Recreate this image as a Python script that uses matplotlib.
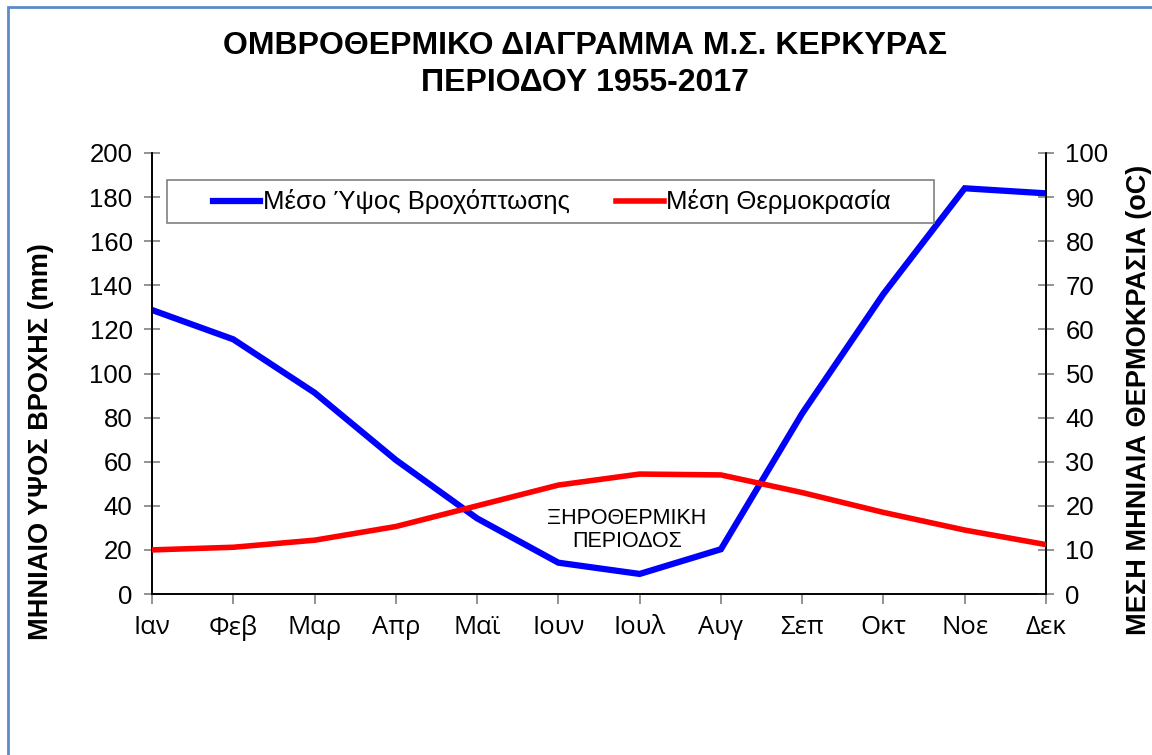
import matplotlib
matplotlib.use("Agg")
import matplotlib.pyplot as plt
from matplotlib.patches import Rectangle

# month labels and monthly means
months = ["Ιαν", "Φεβ", "Μαρ", "Απρ", "Μαϊ", "Ιουν", "Ιουλ", "Αυγ", "Σεπ", "Οκτ", "Νοε", "Δεκ"]
rain_mm = [128.8, 115.5, 91.3, 60.8, 34.3, 14.2, 9.1, 20.3, 81.9, 136.1, 184.0, 181.7]
temp_c = [10.0, 10.6, 12.2, 15.3, 20.0, 24.7, 27.2, 27.0, 23.0, 18.5, 14.5, 11.2]

rain_label = "Μέσο Ύψος Βροχόπτωσης"
temp_label = "Μέση Θερμοκρασία"

plt.rcParams['font.family'] = ['Liberation Sans', 'DejaVu Sans']

W, H = 1152, 755
fig = plt.figure(figsize=(W / 100, H / 100), dpi=100)

# chart border (blue frame, cut off at right/bottom like the original)
fig.patches.append(Rectangle((8 / W, -0.1), 1.2, 1 - 7 / H + 0.1, transform=fig.transFigure,
                             fill=False, edgecolor='#5B8BC8', linewidth=2.0))

ax = fig.add_axes([152 / W, (H - 594) / H, (1046 - 152) / W, (594 - 153) / H])
ax2 = ax.twinx()

x = list(range(len(months)))
l1, = ax.plot(x, rain_mm, color='#0000FF', linewidth=4.5, label=rain_label,
              solid_joinstyle='miter', zorder=3)
l2, = ax2.plot(x, temp_c, color='#FF0000', linewidth=4.0, label=temp_label,
               solid_joinstyle='miter', zorder=3)

ax.set_xlim(0, 11)
ax.set_ylim(0, 200)
ax2.set_ylim(0, 100)
ax.set_yticks(range(0, 201, 20))
ax2.set_yticks(range(0, 101, 10))
ax.set_xticks(x)
ax.set_xticklabels(months, fontsize=18.5, family=['Open Sans', 'DejaVu Sans'])

for a in (ax, ax2):
    a.spines['top'].set_visible(False)
    for s in ('left', 'right', 'bottom'):
        a.spines[s].set_color('black')
        a.spines[s].set_linewidth(1.2)

ax.tick_params(axis='y', direction='inout', length=12, width=1.2, color='#808080',
               labelsize=18.5, pad=8)
ax2.tick_params(axis='y', direction='inout', length=12, width=1.2, color='#808080',
                labelsize=18.5, pad=8)
ax.tick_params(axis='x', direction='out', length=7, width=1.2, color='#808080', pad=8)

# title and axis labels
fig.text(585 / W, 1 - 46 / H, "ΟΜΒΡΟΘΕΡΜΙΚΟ ΔΙΑΓΡΑΜΜΑ Μ.Σ. ΚΕΡΚΥΡΑΣ", ha='center', va='center',
         fontsize=23, fontweight='bold')
fig.text(585 / W, 1 - 83 / H, "ΠΕΡΙΟΔΟΥ 1955-2017", ha='center', va='center',
         fontsize=23, fontweight='bold')
fig.text(41 / W, 1 - 442 / H, "ΜΗΝΙΑΙΟ ΥΨΟΣ ΒΡΟΧΗΣ (mm)", rotation=90, ha='center', va='center',
         fontsize=19.5, fontweight='bold')
fig.text(1139 / W, 1 - 400 / H, "ΜΕΣΗ ΜΗΝΙΑΙΑ ΘΕΡΜΟΚΡΑΣΙΑ (oC)", rotation=90, ha='center',
         va='center', fontsize=19.5, fontweight='bold')

# dry period note
fig.text(627 / W, 1 - 530 / H, "ΞΗΡΟΘΕΡΜΙΚΗ\nΠΕΡΙΟΔΟΣ", ha='center', va='center',
         fontsize=15.5, linespacing=1.15)

# legend frame + centred legend entries
fig.patches.append(Rectangle((167 / W, 1 - 223 / H), (934 - 167) / W, 43 / H,
                             transform=fig.transFigure, fill=True, facecolor='white',
                             edgecolor='#808080', linewidth=1.2, zorder=5))
leg = fig.legend([l1, l2], [rain_label, temp_label], ncol=2,
                 bbox_to_anchor=(552 / W, 1 - 202 / H), loc='center',
                 fontsize=18.5, frameon=False, handlelength=1.85, handletextpad=0.1,
                 borderaxespad=0, borderpad=0, columnspacing=1.8)
leg.set_zorder(6)

fig.savefig("out.png", dpi=100)
